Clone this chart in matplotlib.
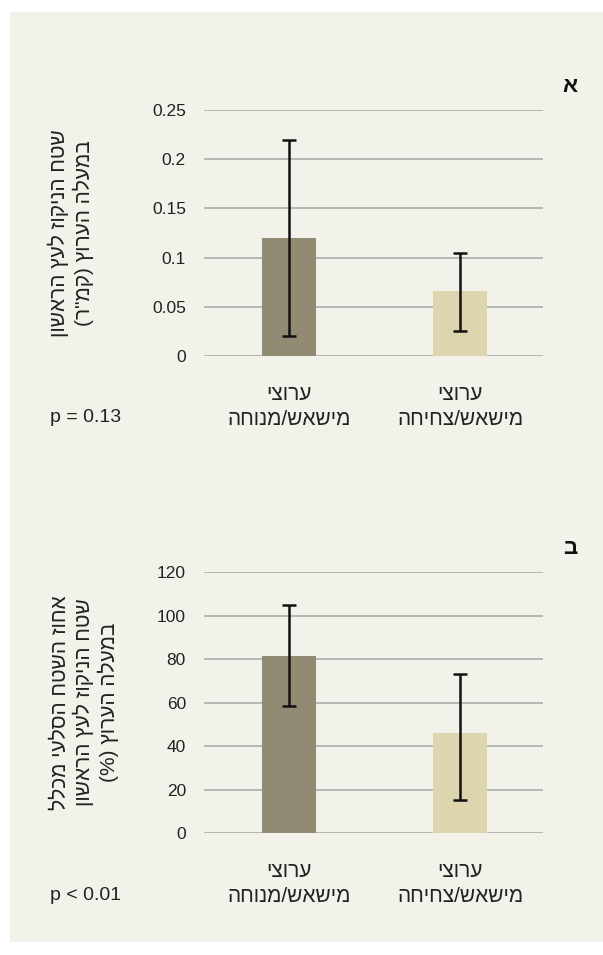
import matplotlib
matplotlib.use('Agg')
import matplotlib.pyplot as plt
from matplotlib.patches import Rectangle

plt.rcParams['font.family'] = ['Liberation Sans', 'DejaVu Sans']

# data
groups = ['ערוצי\nמישאש/מנוחה', 'ערוצי\nמישאש/צחיחה']
bar_colors = ['#928b74', '#dcd5ad']

area_mean = [0.12, 0.066]
area_low = [0.02, 0.025]
area_high = [0.22, 0.105]
area_ticks = [0, 0.05, 0.1, 0.15, 0.2, 0.25]
area_ticklabels = ['0', '0.05', '0.1', '0.15', '0.2', '0.25']
area_ylabel = 'שטח הניקוז לעץ הראשון\nבמעלה הערוץ (קמ"ר)'
area_p = 'p = 0.13'

rock_mean = [81.5, 46.2]
rock_low = [58.5, 15.0]
rock_high = [105.0, 73.0]
rock_ticks = [0, 20, 40, 60, 80, 100, 120]
rock_ylabel = 'אחוז השטח הסלעי מכלל\nשטח הניקוז לעץ הראשון\nבמעלה הערוץ (%)'
rock_p = 'p < 0.01'


def visual(s):
    # matplotlib has no bidi support: reverse each line and mirror brackets
    mirror = {'(': ')', ')': '('}
    return '\n'.join(''.join(mirror.get(c, c) for c in line[::-1]) for line in s.split('\n'))


W, H = 603, 955
fig = plt.figure(figsize=(W / 100, H / 100), dpi=100, facecolor='white')
fig.patches.append(Rectangle((10 / W, 1 - 942 / H), 593 / W, 930 / H,
                             transform=fig.transFigure, facecolor='#f3f2ea',
                             edgecolor='none', zorder=-10))

text_color = '#222222'


def panel(top_px, bottom_px, means, low, high, ticks, ticklabels, ylim, ylabel, pval, letter, ylabel_x):
    ax = fig.add_axes([204 / W, 1 - bottom_px / H, 339 / W, (bottom_px - top_px) / H])
    ax.set_facecolor('none')
    x = [0, 1]
    yerr = [[m - lo for m, lo in zip(means, low)], [hi - m for m, hi in zip(means, high)]]
    ax.bar(x, means, width=0.32, color=bar_colors, zorder=2)
    ax.errorbar(x, means, yerr=yerr, fmt='none', ecolor='#111111', elinewidth=1.8,
                capsize=5, capthick=1.8, zorder=3)
    ax.set_ylim(*ylim)
    ax.set_xlim(-0.497, 1.485)
    ax.set_yticks(ticks)
    ax.set_yticklabels(ticklabels if ticklabels else [str(t) for t in ticks])
    ax.set_xticks(x)
    ax.set_xticklabels([visual(g) for g in groups], fontsize=15, color=text_color, linespacing=1.4)
    ax.tick_params(axis='y', length=0, pad=13, labelsize=12.5, labelcolor=text_color)
    ax.tick_params(axis='x', length=0, pad=21)
    ax.yaxis.grid(True, color='#a6a6a6', linewidth=1.1, zorder=1)
    ax.set_axisbelow(True)
    for s in ax.spines.values():
        s.set_visible(False)

    mid = 1 - (top_px + bottom_px) / 2 / H
    fig.text(ylabel_x / W, mid, visual(ylabel), rotation=90, ha='center', va='center',
             fontsize=15, color=text_color, linespacing=1.2)
    fig.text(50 / W, 1 - (bottom_px + 62) / H, pval, ha='left', va='center',
             fontsize=14, color=text_color)
    fig.text(570 / W, 1 - (top_px - 23) / H, letter, ha='center', va='center',
             fontsize=16, fontweight='bold', color='#111111')
    return ax


panel(110, 356, area_mean, area_low, area_high, area_ticks, area_ticklabels, (0, 0.25),
      area_ylabel, area_p, 'א', 71)
panel(572, 833, rock_mean, rock_low, rock_high, rock_ticks, None, (0, 120),
      rock_ylabel, rock_p, 'ב', 85)

fig.savefig('out.png', dpi=100, facecolor='white')
